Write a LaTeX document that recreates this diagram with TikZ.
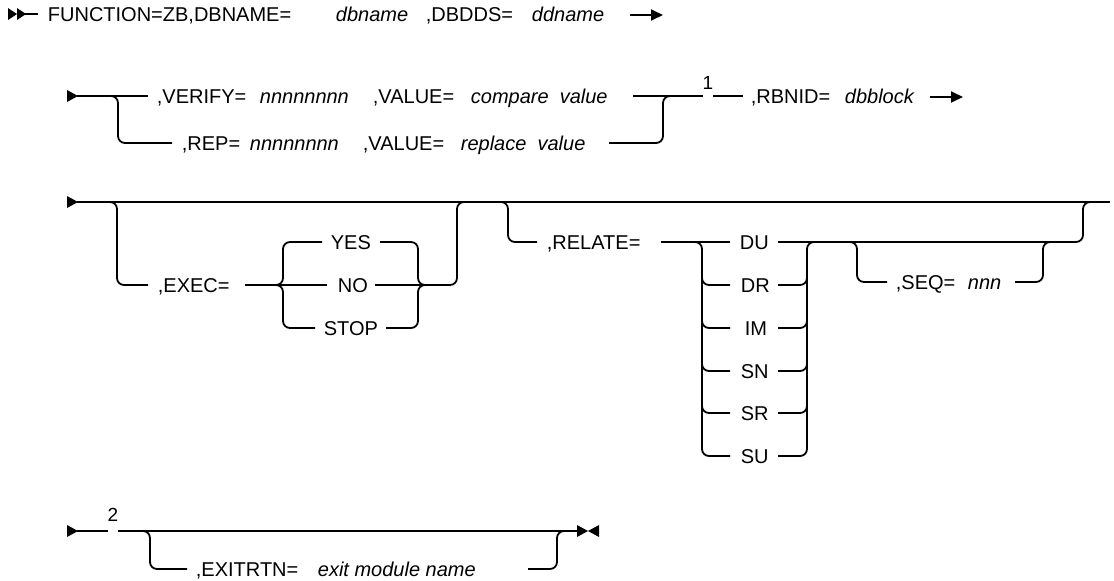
\documentclass[tikz,border=0pt]{standalone}
\usepackage{fontspec}
\setmainfont{Liberation Sans}
\usetikzlibrary{arrows.meta}
\begin{document}
\begin{tikzpicture}[x=1pt,y=-1pt,
  every path/.style={line width=1.8pt},
  ln/.style={line width=1.8pt, rounded corners=7pt},
  kw/.style={inner sep=0pt, text height=14.3pt, text depth=0pt, anchor=west, font=\fontsize{20}{24}\selectfont},
  var/.style={kw, font=\fontsize{20}{24}\selectfont\itshape},
  fnote/.style={inner sep=0pt, font=\fontsize{19}{22}\selectfont},
  tip/.style={fill=black, draw=none},
  endarrow/.style={line width=1.8pt,-{Triangle[length=12pt,width=11pt]}}]
\useasboundingbox (0,0) rectangle (1114,581);

% ---------- Row 1 ----------
\fill[tip] (8,8) -- (17,14) -- (8,20) -- cycle;
\fill[tip] (17,8) -- (26,14) -- (17,20) -- cycle;
\coordinate (r1s) at (17,14);
\coordinate (r1a) at (38,14);
\draw (r1s) -- (r1a);
\node[kw] (func) at (47,14) {FUNCTION=ZB,DBNAME=};
\node[var] (dbname) at (335,14) {dbname};
\node[kw] (dbdds) at (425,14) {,DBDDS=};
\node[var] (ddname) at (531,14) {ddname};
\coordinate (r1e0) at (630,15);
\coordinate (r1e1) at (663,15);
\draw[endarrow] (r1e0) -- (r1e1);

% ---------- Row 2 ----------
\fill[tip] (67,90) -- (78,96) -- (67,102) -- cycle;
\draw (77,96) -- (148,96);
\draw[ln] (108,96) -- (118,96) -- (118,143) -- (172,143);
\node[kw] (verify) at (156,96) {,VERIFY=};
\node[var] (n8a) at (259,96) {nnnnnnnn};
\node[kw] (value1) at (372,96) {,VALUE=};
\node[var] (cmpv) at (470,96) {compare\ \ value};
\node[kw] (rep) at (181,143) {,REP=};
\node[var] (n8b) at (249,143) {nnnnnnnn};
\node[kw] (value2) at (362,143) {,VALUE=};
\node[var] (repv) at (460,143) {replace\ \ value};
\draw (633,96) -- (703,96);
\draw[ln] (609,143) -- (663,143) -- (663,96) -- (673,96);
\node[fnote] (fn1) at (708,83) {1};
\draw (713,96) -- (743,96);
\node[kw] (rbnid) at (750,96) {,RBNID=};
\node[var] (dbblock) at (844,96) {dbblock};
\coordinate (r2e0) at (930,97);
\coordinate (r2e1) at (963,97);
\draw[endarrow] (r2e0) -- (r2e1);

% ---------- Row 3 ----------
\fill[tip] (67,196) -- (78,202) -- (67,208) -- cycle;
\draw (77,202) -- (1110,202);
% EXEC group
\draw[ln] (108,202) -- (117,202) -- (117,285) -- (148,285);
\node[kw] (exec) at (157,285) {,EXEC=};
\draw (245,285) -- (327,285);
\draw[ln] (273,285) -- (283,285) -- (283,242) -- (322,242);
\draw[ln] (273,285) -- (283,285) -- (283,328) -- (315,328);
\node[kw] (yes) at (330,242) {YES};
\node[kw] (no) at (337,285) {NO};
\node[kw] (stop) at (323,328) {STOP};
\draw[ln] (380,242) -- (418,242) -- (418,285) -- (428,285);
\draw[ln] (386,328) -- (418,328) -- (418,285) -- (428,285);
\draw (375,285) -- (428,285);
\draw[ln] (418,285) -- (457,285) -- (457,202) -- (467,202);
% RELATE group
\draw[ln] (498,202) -- (508,202) -- (508,242) -- (537,242);
\node[kw] (relate) at (546,242) {,RELATE=};
\draw (661,242) -- (730,242);
\draw[ln] (692,242) -- (702,242) -- (702,456) -- (730,456);
\foreach \yy in {285,328,371,413} {
  \draw[ln] (702,\yy-15) -- (702,\yy) -- (730,\yy);
  \draw[ln] (778,\yy) -- (807,\yy) -- (807,\yy-15);
}
\node[kw] (du) at (739,242) {DU};
\node[kw] (dr) at (740,285) {DR};
\node[kw] (im) at (744,328) {IM};
\node[kw] (sn) at (740,371) {SN};
\node[kw] (sr) at (740,413) {SR};
\node[kw] (su) at (740,456) {SU};
\draw[ln] (778,456) -- (807,456) -- (807,242) -- (817,242);
\draw (778,242) -- (1073,242);
% SEQ group
\draw[ln] (847,242) -- (857,242) -- (857,282) -- (887,282);
\node[kw] (seq) at (895,282) {,SEQ=};
\node[var] (nnn) at (967,282) {nnn};
\draw[ln] (1015,282) -- (1043,282) -- (1043,242) -- (1053,242);
\draw[ln] (1063,242) -- (1083,242) -- (1083,202) -- (1093,202);

% ---------- Row 4 ----------
\fill[tip] (67,525) -- (78,531) -- (67,537) -- cycle;
\draw (77,531) -- (108,531);
\node[fnote] (fn2) at (113,515) {2};
\draw (118,531) -- (578,531);
\draw[ln] (140,531) -- (150,531) -- (150,569) -- (187,569);
\node[kw] (exitrtn) at (195,569) {,EXITRTN=};
\node[var] (exitm) at (317,569) {exit module name};
\draw[ln] (528,569) -- (557,569) -- (557,531) -- (567,531);
\fill[tip] (577,525) -- (588,531) -- (577,537) -- cycle;
\fill[tip] (599,525) -- (588,531) -- (599,537) -- cycle;
\end{tikzpicture}
\end{document}
